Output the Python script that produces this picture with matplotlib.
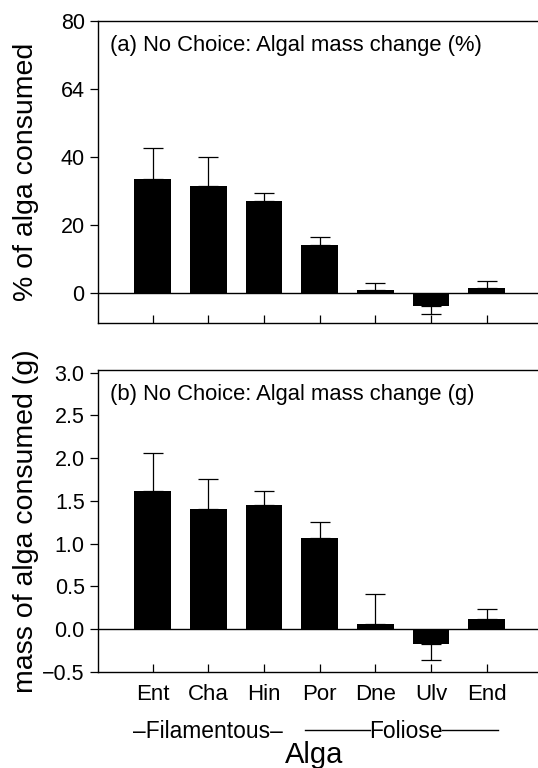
import matplotlib
matplotlib.use('Agg')
import matplotlib.pyplot as plt
import matplotlib.transforms as mtransforms

plt.rcParams['font.family'] = ['Liberation Sans', 'DejaVu Sans']

algae = ['Ent', 'Cha', 'Hin', 'Por', 'Dne', 'Ulv', 'End']

# (a) percent of alga consumed, mean and SE
pct_mean = [33.4, 31.6, 27.1, 14.1, 0.8, -3.8, 1.5]
pct_err = [9.3, 8.5, 2.2, 2.3, 2.3, 2.4, 2.1]

# (b) mass of alga consumed (g), mean and SE
mass_mean = [1.615, 1.40, 1.45, 1.07, 0.06, -0.17, 0.115]
mass_err = [0.445, 0.36, 0.16, 0.18, 0.35, 0.19, 0.12]

pct_ticks = [0, 20, 40, 60, 80]
pct_ticklabels = ['0', '20', '40', '64', '80']
mass_ticks = [-0.5, 0.0, 0.5, 1.0, 1.5, 2.0, 2.5, 3.0]

fig = plt.figure(figsize=(5.38, 7.68), dpi=100)
ax1 = fig.add_axes([0.182, 0.5794, 0.818, 0.3933])
ax2 = fig.add_axes([0.182, 0.125, 0.818, 0.3933])

x = list(range(len(algae)))


def draw_panel(ax, means, errs, title):
    lower = [0 if m >= 0 else e for m, e in zip(means, errs)]
    upper = [e if m >= 0 else 0 for m, e in zip(means, errs)]
    ax.bar(x, means, width=0.66, color='black', zorder=2)
    ax.errorbar(x, means, yerr=[lower, upper], fmt='none', ecolor='black',
                elinewidth=0.9, capsize=7.5, capthick=0.9, zorder=1)
    ax.axhline(0, color='black', lw=1.0, zorder=3)
    ax.set_xlim(-0.98, 6.92)
    ax.spines['right'].set_visible(False)
    for s in ['left', 'top', 'bottom']:
        ax.spines[s].set_linewidth(1.0)
    ax.tick_params(axis='x', direction='in', length=6, width=0.9)
    ax.tick_params(axis='y', direction='out', length=6, width=0.9,
                   labelsize=15.5)
    ax.set_xticks(x)
    ax.text(0.027, 0.955, title, transform=ax.transAxes, fontsize=15.8,
            ha='left', va='top')


draw_panel(ax1, pct_mean, pct_err, '(a) No Choice: Algal mass change (%)')
ax1.set_ylim(-8.8, 80)
ax1.set_yticks(pct_ticks)
ax1.set_yticklabels(pct_ticklabels)
ax1.set_xticklabels([])
ax1.set_ylabel('% of alga consumed', fontsize=20.5)
ax1.yaxis.set_label_coords(-0.134, 0.5)

draw_panel(ax2, mass_mean, mass_err, '(b) No Choice: Algal mass change (g)')
ax2.set_ylim(-0.5, 3.03)
ax2.set_yticks(mass_ticks)
ax2.set_yticklabels(['\u22120.5', '0.0', '0.5', '1.0', '1.5', '2.0', '2.5', '3.0'])
ax2.set_xticklabels(algae, fontsize=16)
ax2.tick_params(axis='x', pad=9)
ax2.set_ylabel('mass of alga consumed (g)', fontsize=20.5)
ax2.yaxis.set_label_coords(-0.133, 0.5)

# group labels under the tick labels
trans = mtransforms.blended_transform_factory(ax2.transData, fig.transFigure)
grp_y = 1 - 731 / 768
ax2.text(1.0, grp_y, '\u2013Filamentous\u2013', transform=trans,
         ha='center', va='center', fontsize=16.4)
ax2.text(4.55, grp_y, 'Foliose', transform=trans,
         ha='center', va='center', fontsize=16.4)
for x0, x1 in [(2.73, 3.9), (5.2, 6.2)]:
    ax2.plot([x0, x1], [grp_y + 0.0012, grp_y + 0.0012], color='black', lw=1.0,
             transform=trans, clip_on=False)
fig.text(314.5 / 538, 1 - 755 / 768, 'Alga', ha='center',
         va='center', fontsize=21)

fig.savefig('out.png', dpi=100)
